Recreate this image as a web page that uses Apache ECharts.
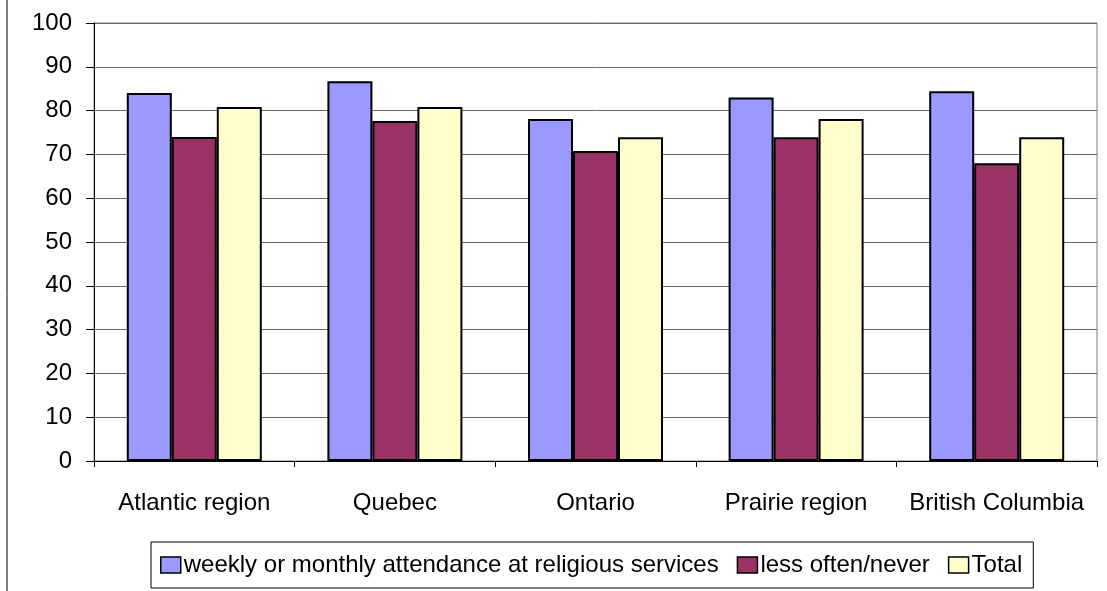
<!DOCTYPE html>
<html>
<head>
<meta charset="utf-8">
<script src="https://cdn.jsdelivr.net/npm/echarts@6/dist/echarts.min.js"></script>
<style>
  html, body { margin: 0; padding: 0; background: #fff; }
  #chart { width: 1107px; height: 591px; }
</style>
</head>
<body>
<div id="chart"></div>
<script>
// Regions along the category axis
const regions = ['Atlantic region', 'Quebec', 'Ontario', 'Prairie region', 'British Columbia'];

// Percentages per region for each attendance group
const weeklyOrMonthly = [84.0, 86.7, 78.1, 83.0, 84.4];
const lessOftenNever = [74.0, 77.6, 70.8, 73.9, 68.0];
const total = [80.8, 80.8, 73.9, 78.1, 73.9];

const seriesNames = ['weekly or monthly attendance at religious services', 'less often/never', 'Total'];
const seriesColors = ['#9999FF', '#993366', '#FFFFCC'];

const FONT = 'Liberation Sans, Arial, sans-serif';

const chart = echarts.init(document.getElementById('chart'));

const makeBar = (name, data, color) => ({
  name: name,
  type: 'bar',
  data: data,
  barWidth: 45,
  barGap: '0%',
  itemStyle: { color: color, borderColor: '#000', borderWidth: 2 },
  emphasis: { disabled: true },
  animation: false
});

chart.setOption({
  backgroundColor: '#fff',
  animation: false,
  textStyle: { fontFamily: FONT },
  grid: {
    left: 94, right: 10, top: 23, bottom: 130,
    show: true, borderColor: '#808080', borderWidth: 1
  },
  legend: {
    data: seriesNames,
    left: 151, top: 542,
    orient: 'horizontal',
    itemWidth: 20, itemHeight: 16, itemGap: 18,
    padding: [11, 11, 11, 9],
    borderColor: '#000', borderWidth: 1,
    icon: 'rect',
    textStyle: { fontFamily: FONT, fontSize: 24, color: '#000', padding: [0, 0, 0, -2] },
    itemStyle: { borderColor: '#000', borderWidth: 1.5 }
  },
  xAxis: {
    type: 'category',
    data: regions,
    axisLine: { lineStyle: { color: '#000', width: 1 } },
    axisTick: { show: true, length: 6, lineStyle: { color: '#000' } },
    axisLabel: { fontFamily: FONT, fontSize: 24, color: '#000', margin: 30, interval: 0 },
    splitLine: { show: false }
  },
  yAxis: {
    type: 'value',
    min: 0, max: 100, interval: 10,
    axisLine: { show: true, lineStyle: { color: '#000', width: 1 } },
    axisTick: { show: true, length: 8, lineStyle: { color: '#000' } },
    axisLabel: { fontFamily: FONT, fontSize: 24, color: '#000', margin: 22 },
    splitLine: { show: true, lineStyle: { color: '#666', width: 1 } }
  },
  graphic: [{
    type: 'line',
    shape: { x1: 7, y1: 0, x2: 7, y2: 591 },
    style: { stroke: '#000', lineWidth: 1 }
  }],
  series: [
    makeBar(seriesNames[0], weeklyOrMonthly, seriesColors[0]),
    makeBar(seriesNames[1], lessOftenNever, seriesColors[1]),
    makeBar(seriesNames[2], total, seriesColors[2])
  ]
});
</script>
</body>
</html>
